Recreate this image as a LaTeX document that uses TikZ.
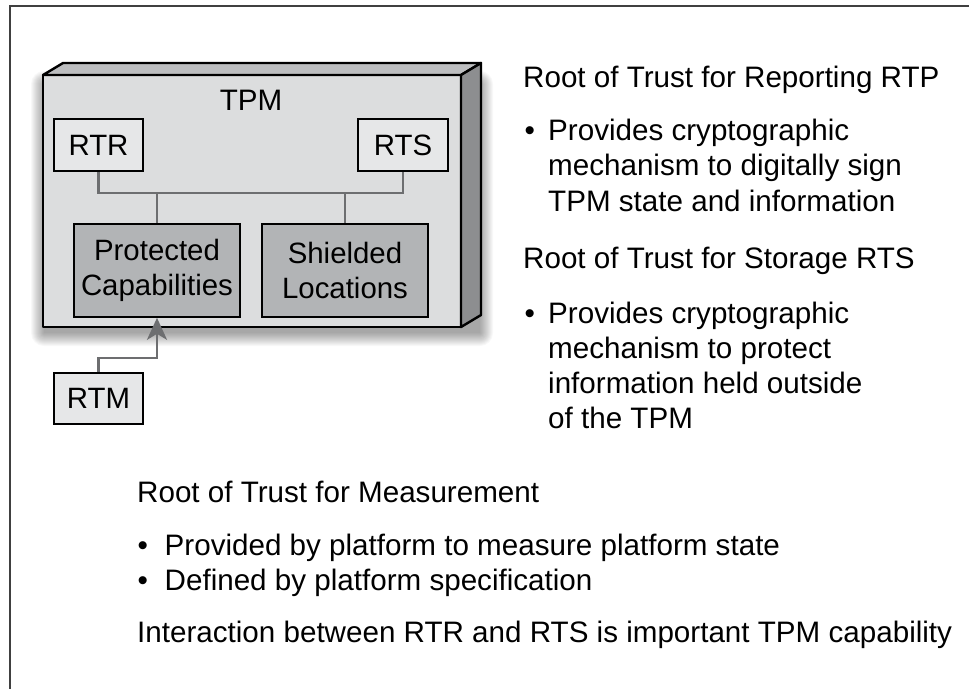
\documentclass[tikz,border=0pt]{standalone}
\usepackage{fontspec}
\setmainfont{Liberation Sans}
\usetikzlibrary{arrows.meta,calc}
\definecolor{frontc}{HTML}{DCDDDE}
\definecolor{topc}{HTML}{BDBEC0}
\definecolor{sidec}{HTML}{8D8E90}
\definecolor{lightbox}{HTML}{E6E7E8}
\definecolor{darkbox}{HTML}{B2B4B6}
\definecolor{connc}{HTML}{6D6E70}
\definecolor{framec}{HTML}{404040}
\tikzset{
  txt/.style={font=\fontsize{29.6}{35}\selectfont, inner sep=0pt, anchor=base west, text=black},
  lbox/.style={draw=black, line width=1.6pt, fill=lightbox, minimum width=89pt, minimum height=52pt, inner sep=0pt, font=\fontsize{29.4}{35}\selectfont},
  dbox/.style={draw=black, line width=1.6pt, fill=darkbox, minimum width=166pt, minimum height=93pt, inner sep=0pt, align=center, font=\fontsize{29.4}{35}\selectfont},
  conn/.style={draw=connc, line width=2.6pt},
  face/.style={draw=black, line width=2.4pt, line join=round},
}
\begin{document}
\begin{tikzpicture}[x=1pt,y=-1pt]
\useasboundingbox (0,0) rectangle (969,689);
\fill[white] (0,0) rectangle (969,689);
% frame
\draw[framec, line width=2pt] (969,5.5) -- (9.5,5.5) -- (9.5,689);
% shadow
\foreach \i in {0,...,13} {
  \fill[black, opacity=0.028, rounded corners=\i pt] (44-\i, 84-\i) rectangle (480+\i, 333+\i);
}
% 3D TPM box
\filldraw[face, fill=frontc] (43,75) rectangle (461,327);
\filldraw[face, fill=topc] (43,75) -- (63,63) -- (481,63) -- (461,75) -- cycle;
\filldraw[face, fill=sidec] (461,75) -- (481,63) -- (481,315) -- (461,327) -- cycle;
\node[txt, anchor=base] (tpm) at (251,110) {TPM};
% inner boxes
\node[lbox] (rtr) at (98.5,145) {RTR};
\node[lbox, minimum width=90pt] (rts) at (403,145) {RTS};
\node[dbox] (pc) at (157,270.5) {Protected\\Capabilities};
\node[dbox] (sl) at (345,270.5) {Shielded\\Locations};
\node[lbox, minimum height=51pt] (rtm) at (98.5,398.5) {RTM};
% connectors
\coordinate (bus) at (0,193);
\coordinate (elb) at (0,358);
\draw[conn] (rtr.south) -- (rtr.south |- bus) -- (rts.south |- bus) -- (rts.south);
\draw[conn] (pc.north) -- (pc.north |- bus);
\draw[conn] (sl.north) -- (sl.north |- bus);
\draw[conn, -{Stealth[length=22pt, width=20pt, inset=6pt]}] (rtm.north) -- (rtm.north |- elb) -| (pc.south);
% right texts
\node[txt] (h1) at (523,87) {Root of Trust for Reporting RTP};
\node[txt] (b1) at (524.5,140) {•};
\node[txt] (l1a) at (548,140) {Provides cryptographic};
\node[txt] (l1b) at (548,175.5) {mechanism to digitally sign};
\node[txt] (l1c) at (548,211) {TPM state and information};
\node[txt] (h2) at (523,268) {Root of Trust for Storage RTS};
\node[txt] (b2) at (524.5,323) {•};
\node[txt] (l2a) at (548,323) {Provides cryptographic};
\node[txt] (l2b) at (548,358) {mechanism to protect};
\node[txt] (l2c) at (548,393) {information held outside};
\node[txt] (l2d) at (548,428.5) {of the TPM};
% bottom texts
\node[txt] (h3) at (137,502) {Root of Trust for Measurement};
\node[txt] (b3) at (137.5,555) {•};
\node[txt] (l3a) at (164.5,555) {Provided by platform to measure platform state};
\node[txt] (b4) at (137.5,590) {•};
\node[txt] (l3b) at (164.5,590) {Defined by platform specification};
\node[txt] (h4) at (137,642) {Interaction between RTR and RTS is important TPM capability};
\end{tikzpicture}
\end{document}
